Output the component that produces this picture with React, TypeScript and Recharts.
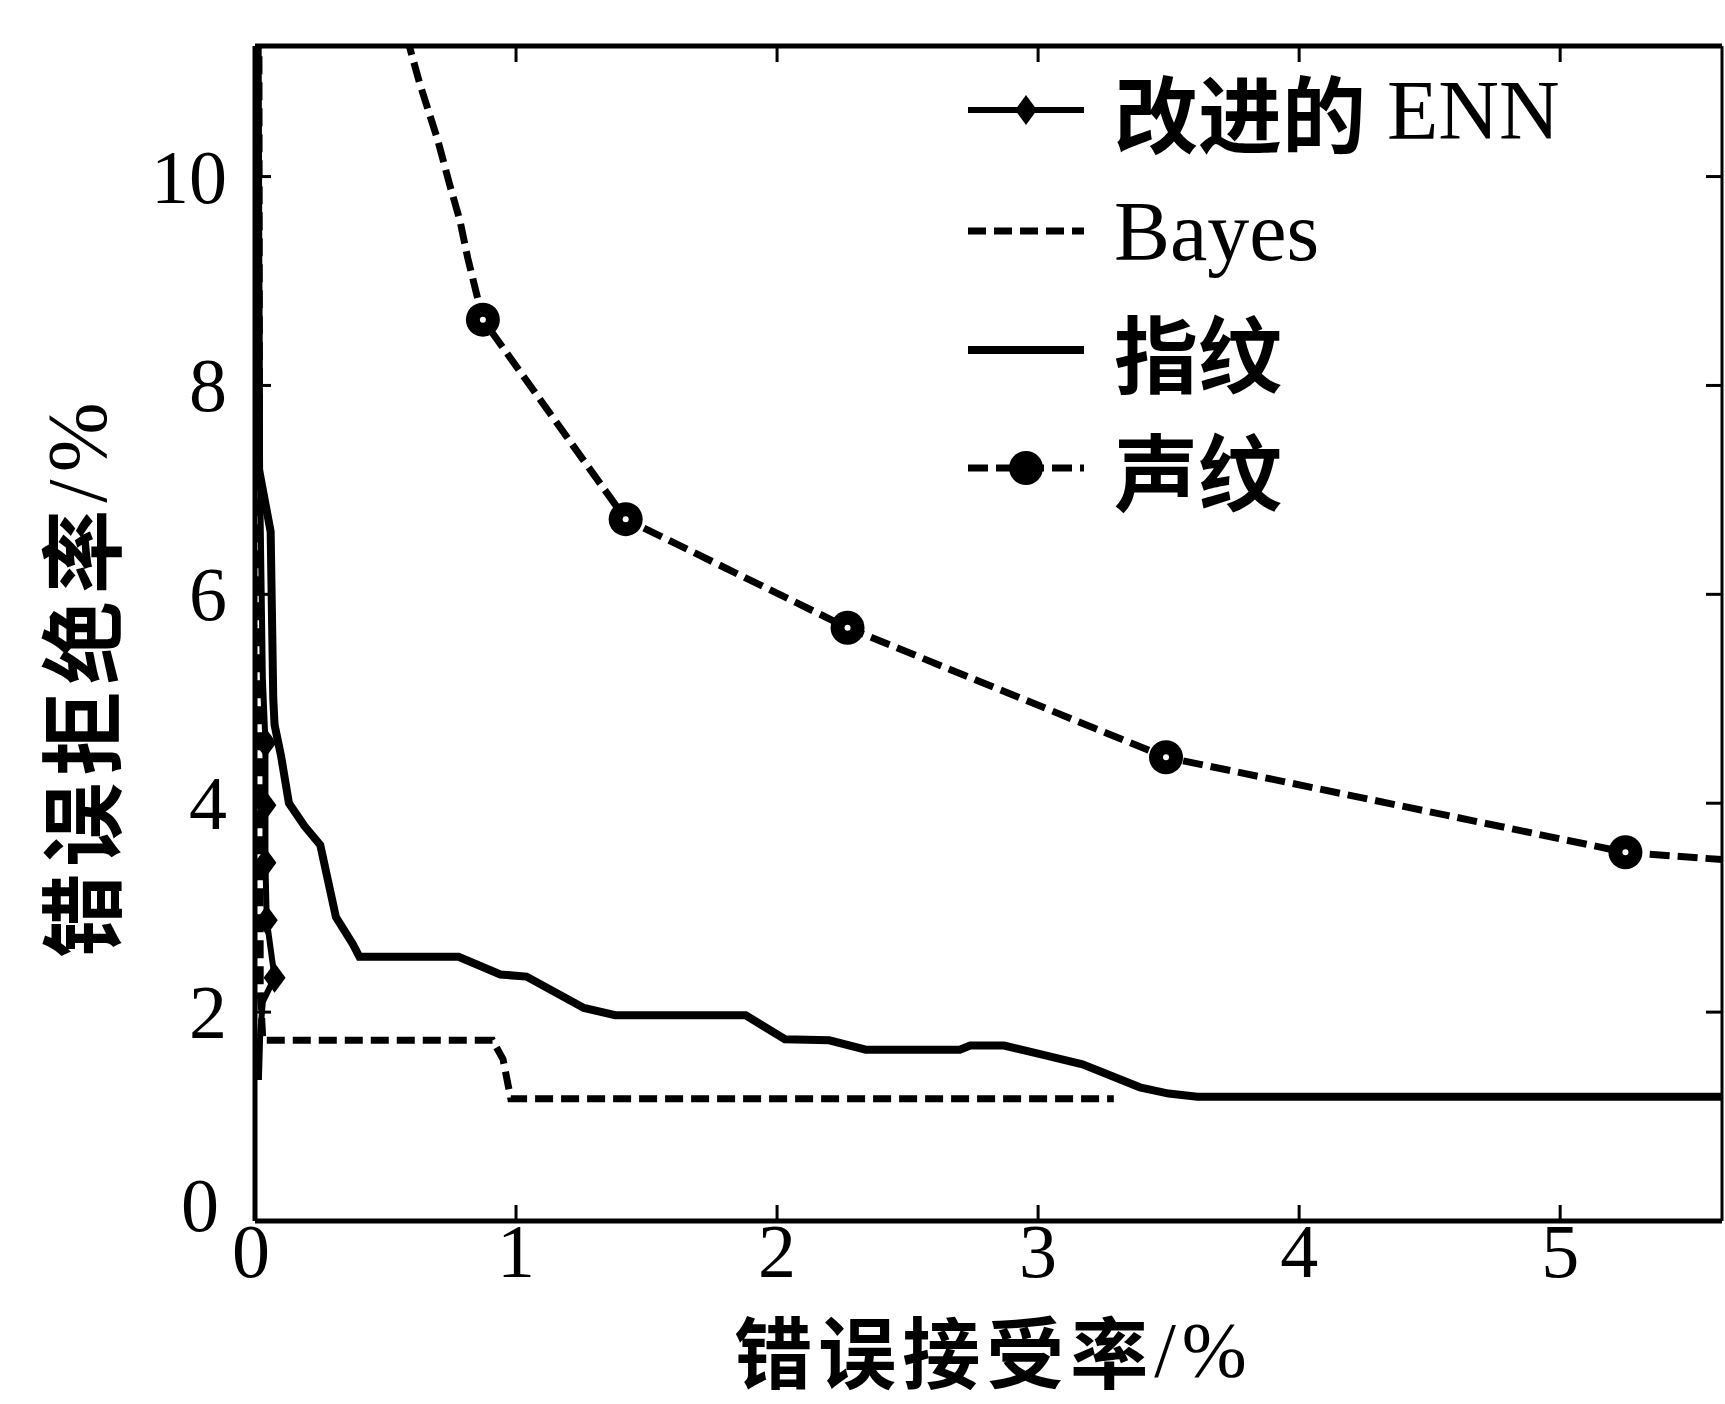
import React from 'react';
import { ComposedChart, Line, Scatter, XAxis, YAxis, Legend, Label } from 'recharts';

const xTicks = [0, 1, 2, 3, 4, 5];
const yTicks = [0, 2, 4, 6, 8, 10];
const X_MAX = 5.62;
const Y_MAX = 11.25;

const seriesNames = ['改进的 ENN', 'Bayes', '指纹', '声纹'];

// 改进的 ENN
const ennFar = [0.01, 0.02, 0.03, 0.04, 0.04, 0.04, 0.045, 0.075, 0.03, 0.02, 0.015];
const ennFrr = [11.4, 7.0, 5.2, 4.58, 3.98, 3.43, 2.88, 2.33, 2.1, 1.8, 1.35];
const ennMark = [0, 0, 0, 1, 1, 1, 1, 1, 0, 0, 0];

// Bayes
const bayesFar = [0.015, 0.02, 0.03, 0.91, 0.95, 0.98, 3.29];
const bayesFrr = [11.4, 2.2, 1.73, 1.73, 1.55, 1.17, 1.17];

// 指纹
const fingerFar = [0.01, 0.015, 0.06, 0.07, 0.075, 0.1, 0.13, 0.19, 0.25, 0.31, 0.375, 0.4, 0.78, 0.94, 1.04, 1.26, 1.38, 1.88, 2.03, 2.2, 2.34, 2.7, 2.74, 2.87, 3.02, 3.17, 3.39, 3.5, 3.61, 5.62];
const fingerFrr = [11.4, 7.2, 6.6, 5.0, 4.75, 4.45, 4.0, 3.78, 3.6, 2.91, 2.65, 2.53, 2.53, 2.36, 2.34, 2.04, 1.97, 1.97, 1.74, 1.73, 1.64, 1.64, 1.68, 1.68, 1.59, 1.5, 1.28, 1.22, 1.19, 1.19];

// 声纹
const voiceFar = [0.58, 0.63, 0.7, 0.745, 0.785, 0.815, 0.873, 1.42, 2.27, 3.49, 5.25, 5.62];
const voiceFrr = [11.35, 10.9, 10.35, 9.93, 9.58, 9.22, 8.63, 6.72, 5.68, 4.44, 3.53, 3.46];
const voiceMark = [0, 0, 0, 0, 0, 0, 1, 1, 1, 1, 1, 0];

const toRows = (xs: number[], ys: number[], marks?: number[]) =>
  xs.map((x, i) => ({ x, y: ys[i], m: marks ? marks[i] : 0 }));

const ennData = toRows(ennFar, ennFrr, ennMark);
const bayesData = toRows(bayesFar, bayesFrr);
const fingerData = toRows(fingerFar, fingerFrr);
const voiceData = toRows(voiceFar, voiceFrr, voiceMark);

// frame tick positions (inward ticks on bottom, top and left)
const bottomTicks = xTicks.filter((t) => t > 0).map((t) => ({ x: t, y: 0 }));
const topTicks = xTicks.filter((t) => t > 0).map((t) => ({ x: t, y: Y_MAX }));
const leftTicks = yTicks.filter((t) => t > 0).map((t) => ({ x: 0, y: t }));

const FONT = "'Liberation Serif', 'Noto Sans CJK SC', serif";
const TICK_LEN = 16;

// CJK parts a bit heavier, like the scanned print
const mixed = (s: string) =>
  s.split(/([\u4e00-\u9fff]+)/).filter(Boolean).map((part, i) =>
    /[\u4e00-\u9fff]/.test(part)
      ? <tspan key={i} fontFamily="'Noto Sans CJK SC'" fontWeight={700}>{part}</tspan>
      : <tspan key={i}>{part}</tspan>
  );

const DiamondDot = (props: any) => {
  const { cx, cy, payload, index } = props;
  if (!payload || !payload.m || cx == null) return <g key={`e${index}`} />;
  return (
    <g key={`e${index}`}>
      <path d={`M${cx},${cy - 15} L${cx + 11},${cy} L${cx},${cy + 15} L${cx - 11},${cy} Z`} fill="#000" />
    </g>
  );
};

const CircleDot = (props: any) => {
  const { cx, cy, payload, index } = props;
  if (!payload || !payload.m || cx == null) return <g key={`v${index}`} />;
  return (
    <g key={`v${index}`}>
      <circle cx={cx} cy={cy} r={17} fill="#000" />
      <circle cx={cx} cy={cy} r={3} fill="#fff" />
    </g>
  );
};

const TickUp = (p: any) => <line x1={p.cx} x2={p.cx} y1={p.cy} y2={p.cy - TICK_LEN} stroke="#000" strokeWidth={3} />;
const TickDown = (p: any) => <line x1={p.cx} x2={p.cx} y1={p.cy} y2={p.cy + TICK_LEN} stroke="#000" strokeWidth={3} />;
const TickRight = (p: any) => <line x1={p.cx} x2={p.cx + TICK_LEN} y1={p.cy} y2={p.cy} stroke="#000" strokeWidth={3} />;

const NoLabel = () => <g />;

const YTick = (props: any) => {
  const { x, y, payload } = props;
  const zero = payload.value === 0;
  return (
    <text x={zero ? x - 8 : x} y={zero ? y - 16 : y} textAnchor="end" dominantBaseline="central"
      fontFamily={FONT} fontSize={76} fill="#000">
      {payload.value}
    </text>
  );
};

const XTick = (props: any) => {
  const { x, y, payload } = props;
  return (
    <text x={payload.value === 0 ? x - 4 : x} y={y} textAnchor="middle" dy="0.71em"
      fontFamily={FONT} fontSize={76} fill="#000">
      {payload.value}
    </text>
  );
};

const renderLegend = () => {
  const rows = [60, 181, 300, 418];
  return (
    <svg width={720} height={480}>
      {/* 改进的 ENN */}
      <line x1={8} x2={124} y1={rows[0]} y2={rows[0]} stroke="#000" strokeWidth={6} />
      <path d={`M66,${rows[0] - 15} L77,${rows[0]} L66,${rows[0] + 15} L55,${rows[0]} Z`} fill="#000" />
      {/* Bayes */}
      <line x1={8} x2={124} y1={rows[1]} y2={rows[1]} stroke="#000" strokeWidth={7} strokeDasharray="18 8" />
      {/* 指纹 */}
      <line x1={8} x2={124} y1={rows[2]} y2={rows[2]} stroke="#000" strokeWidth={8} />
      {/* 声纹 */}
      <line x1={8} x2={124} y1={rows[3]} y2={rows[3]} stroke="#000" strokeWidth={7} strokeDasharray="20 8" />
      <circle cx={66} cy={rows[3]} r={17} fill="#000" />
      {seriesNames.map((n, i) => (
        <text key={n} x={154} y={rows[i]} dominantBaseline="central" fontFamily={FONT} fontSize={84} fill="#000">
          {mixed(n)}
        </text>
      ))}
    </svg>
  );
};

const App = () => {
  return (
    <div style={{ position: 'absolute', left: 0, top: 0, width: 1725, height: 1404, background: '#fff' }}>
      <ComposedChart width={1725} height={1404} margin={{ top: 46, right: 3, bottom: 13, left: 15 }}>
        <XAxis xAxisId="b" type="number" dataKey="x" domain={[0, X_MAX]} ticks={xTicks} allowDataOverflow
          height={170} tickSize={0} tickMargin={2} tickLine={false}
          axisLine={{ stroke: '#000', strokeWidth: 5 }} tick={<XTick />}>
          <Label content={(p: any) => {
            const vb = p.viewBox;
            return (
              <text x={vb.x + vb.width / 2 + 5} y={vb.y + 128} textAnchor="middle" dominantBaseline="central"
                fontFamily={FONT} fontSize={78} letterSpacing={6} fill="#000">
                {mixed('错误接受率/%')}
              </text>
            );
          }} />
        </XAxis>
        <XAxis xAxisId="top" type="number" orientation="top" mirror domain={[0, X_MAX]} ticks={xTicks}
          allowDataOverflow tick={<NoLabel />} tickLine={false} axisLine={{ stroke: '#000', strokeWidth: 5 }} />
        <YAxis yAxisId="l" type="number" domain={[0, Y_MAX]} ticks={yTicks} allowDataOverflow
          width={240} tickSize={0} tickMargin={28} tickLine={false}
          axisLine={{ stroke: '#000', strokeWidth: 5 }} tick={<YTick />}>
          <Label content={(p: any) => {
            const vb = p.viewBox;
            const cx = vb.x + vb.width - 178;
            const cy = vb.y + vb.height / 2 + 43;
            return (
              <text x={cx} y={cy} textAnchor="middle" dominantBaseline="central" transform={`rotate(-90 ${cx} ${cy})`}
                fontFamily={FONT} fontSize={84} letterSpacing={7} fill="#000">
                {mixed('错误拒绝率/%')}
              </text>
            );
          }} />
        </YAxis>
        <YAxis yAxisId="r" type="number" orientation="right" mirror domain={[0, Y_MAX]} ticks={yTicks}
          allowDataOverflow tick={<NoLabel />} tickSize={TICK_LEN} axisLine={{ stroke: '#000', strokeWidth: 3 }}
          tickLine={{ stroke: '#000', strokeWidth: 3 }} />

        <Scatter xAxisId="b" yAxisId="l" data={bottomTicks} dataKey="y" shape={TickUp} legendType="none" isAnimationActive={false} />
        <Scatter xAxisId="b" yAxisId="l" data={topTicks} dataKey="y" shape={TickDown} legendType="none" isAnimationActive={false} />
        <Scatter xAxisId="b" yAxisId="l" data={leftTicks} dataKey="y" shape={TickRight} legendType="none" isAnimationActive={false} />

        <Line xAxisId="b" yAxisId="l" data={bayesData} dataKey="y" name={seriesNames[1]} type="linear"
          stroke="#000" strokeWidth={7} strokeDasharray="18 8" dot={false} activeDot={false} isAnimationActive={false} />
        <Line xAxisId="b" yAxisId="l" data={fingerData} dataKey="y" name={seriesNames[2]} type="linear"
          stroke="#000" strokeWidth={8} dot={false} activeDot={false} isAnimationActive={false} />
        <Line xAxisId="b" yAxisId="l" data={ennData} dataKey="y" name={seriesNames[0]} type="linear"
          stroke="#000" strokeWidth={6} dot={DiamondDot} activeDot={false} isAnimationActive={false} />
        <Line xAxisId="b" yAxisId="l" data={voiceData} dataKey="y" name={seriesNames[3]} type="linear"
          stroke="#000" strokeWidth={7} strokeDasharray="20 8" dot={CircleDot} activeDot={false} isAnimationActive={false} />

        <Legend layout="vertical" align="center" verticalAlign="middle" content={renderLegend}
          wrapperStyle={{ left: 960, top: 50, width: 720, height: 480 }} />
      </ComposedChart>
    </div>
  );
};

export default App;
